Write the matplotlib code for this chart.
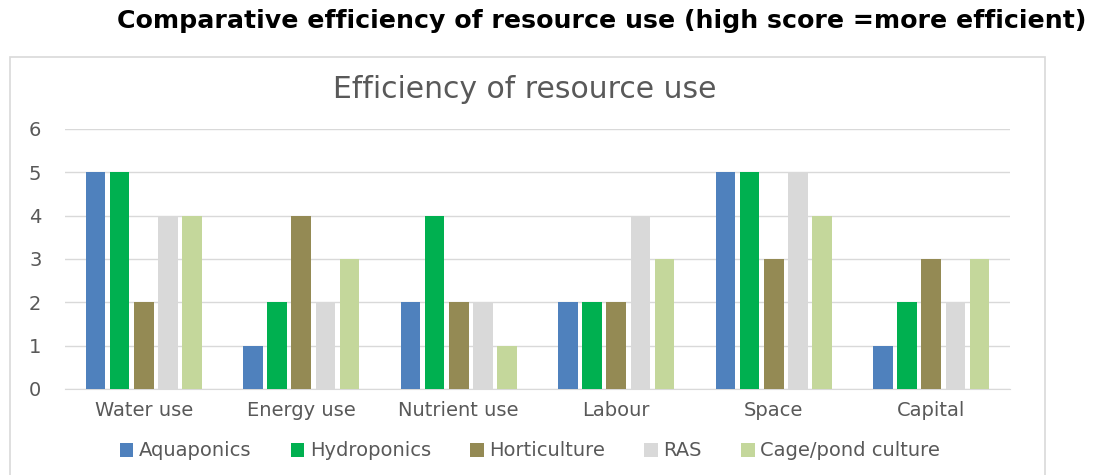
import matplotlib.pyplot as plt
import numpy as np
from matplotlib.patches import Rectangle

categories = ['Water use', 'Energy use', 'Nutrient use', 'Labour', 'Space', 'Capital']
aquaponics = [5, 1, 2, 2, 5, 1]
hydroponics = [5, 2, 4, 2, 5, 2]
horticulture = [2, 4, 2, 2, 3, 3]
ras = [4, 2, 2, 4, 5, 2]
cage_pond = [4, 3, 1, 3, 4, 3]

series = [('Aquaponics', aquaponics, '#4F81BD'),
          ('Hydroponics', hydroponics, '#00B050'),
          ('Horticulture', horticulture, '#948A54'),
          ('RAS', ras, '#D9D9D9'),
          ('Cage/pond culture', cage_pond, '#C4D79B')]

txt = '#595959'
fig = plt.figure(figsize=(11.12, 4.75), dpi=100)

# chart frame
fig.patches.append(Rectangle((10 / 1112, -0.02), 1035 / 1112, 1 - 57 / 475 + 0.02,
                             transform=fig.transFigure, fill=False,
                             edgecolor='#D9D9D9', linewidth=1.2))

fig.text(602 / 1112, 1 - 21 / 475, 'Comparative efficiency of resource use (high score =more efficient)',
         ha='center', va='center', fontsize=18.2, fontweight='bold',
         family='DejaVu Sans', color='black')
fig.text(525 / 1112, 1 - 90 / 475, 'Efficiency of resource use', ha='center', va='center',
         fontsize=21.5, family='DejaVu Sans', color=txt)

ax = fig.add_axes([65 / 1112, 1 - 389 / 475, 945 / 1112, 260 / 475])
x = np.arange(len(categories))
step = 0.153
w = 0.125
handles = []
for i, (name, vals, col) in enumerate(series):
    b = ax.bar(x + (i - 2) * step, vals, w, color=col, label=name, zorder=3)
    handles.append(b)

ax.set_ylim(0, 6)
ax.set_xlim(-0.5, 5.5)
ax.set_yticks(range(7))
ax.set_xticks(x)
ax.set_xticklabels(categories)
ax.grid(axis='y', color='#D9D9D9', linewidth=1, zorder=0)
for s in ['top', 'right', 'left']:
    ax.spines[s].set_visible(False)
ax.spines['bottom'].set_color('#D9D9D9')
ax.tick_params(length=0, labelsize=14, colors=txt, pad=9)
ax.tick_params(axis='y', pad=17)
for lab in ax.get_xticklabels() + ax.get_yticklabels():
    lab.set_family('DejaVu Sans')

leg = fig.legend(handles=handles, loc='center', bbox_to_anchor=(530 / 1112, 1 - 451 / 475),
                 ncol=5, frameon=False, handlelength=0.7, handleheight=0.7,
                 handletextpad=0.3, columnspacing=2.0, prop={'family': 'DejaVu Sans', 'size': 14})
for t in leg.get_texts():
    t.set_color(txt)

plt.savefig('out.png')
